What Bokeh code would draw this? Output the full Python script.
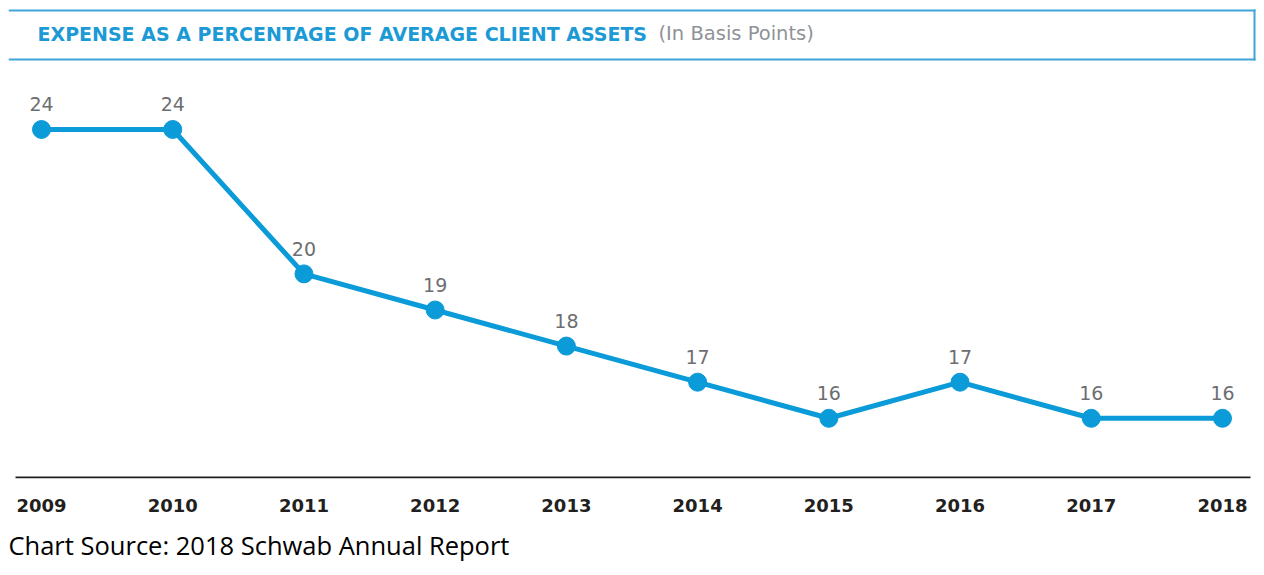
from bokeh.plotting import figure
from bokeh.models import Range1d, FixedTicker, Label, BoxAnnotation, ColumnDataSource, Title
from bokeh.embed import file_html
from bokeh.resources import INLINE
from bokeh.core.properties import value

years = [2009, 2010, 2011, 2012, 2013, 2014, 2015, 2016, 2017, 2018]
expense_bp = [24, 24, 20, 19, 18, 17, 16, 17, 16, 16]
tick_labels = [str(y) for y in years]
value_labels = [str(v) for v in expense_bp]

BLUE = "#0b9bd8"
FRAME_BLUE = "#3ea6d8"
src = ColumnDataSource(dict(x=years, y=expense_bp, lbl=value_labels))

p = figure(width=1256, height=574, output_backend="svg", toolbar_location=None,
           x_range=Range1d(2008.7485, 2018.2591), y_range=Range1d(14.332, 27.573),
           min_border_left=8, min_border_right=0, min_border_top=0, min_border_bottom=96)
p.outline_line_color = None
p.xgrid.visible = False
p.ygrid.visible = False
p.yaxis.visible = False
p.background_fill_color = "white"
p.border_fill_color = "white"

ax = p.xaxis[0]
ax.ticker = FixedTicker(ticks=years)
ax.major_label_overrides = {y: t for y, t in zip(years, tick_labels)}
ax.major_tick_line_color = None
ax.minor_tick_line_color = None
ax.axis_line_color = None
ax.major_label_text_font = "DejaVu Sans"
ax.major_label_text_font_style = "bold"
ax.major_label_text_font_size = "18px"
ax.major_label_text_color = "#231f20"
ax.major_label_standoff = 14

# baseline rule and header frame (decorations, screen units from frame bottom-left)
def bar(l, r, b, t, color):
    p.add_layout(BoxAnnotation(left=l, right=r, bottom=b, top=t,
                               left_units="screen", right_units="screen",
                               bottom_units="screen", top_units="screen",
                               fill_color=color, fill_alpha=1, line_alpha=0, level="underlay"))

bar(7, 1242, 0, 2, "#231f20")
bar(0, 1247, 467, 469, FRAME_BLUE)
bar(0, 1247, 418, 420, FRAME_BLUE)
bar(1245, 1247, 418, 469, FRAME_BLUE)

p.line("x", "y", source=src, line_color=BLUE, line_width=5)
p.scatter("x", "y", source=src, size=18, fill_color=BLUE, line_color=BLUE)
p.text("x", "y", text="lbl", source=src, y_offset=-25, text_align="center",
       text_baseline="middle", text_font=value("DejaVu Sans"), text_font_size="19px",
       text_color="#6d6e71")

p.add_layout(Label(x=29, y=445, x_units="screen", y_units="screen",
                   text="EXPENSE AS A PERCENTAGE OF AVERAGE CLIENT ASSETS",
                   text_font="DejaVu Sans", text_font_style="bold", text_font_size="19px",
                   text_color="#1b9ad6", text_baseline="middle"))
p.add_layout(Label(x=650, y=445, x_units="screen", y_units="screen",
                   text="(In Basis Points)",
                   text_font="DejaVu Sans", text_font_size="19.5px",
                   text_color="#8f9296", text_baseline="middle"))

p.add_layout(Title(text="Chart Source: 2018 Schwab Annual Report", align="left",
                   text_font="Open Sans", text_font_size="25.5px", text_font_style="normal",
                   text_color="black", standoff=22), "below")

open("out.html", "w").write(file_html(p, INLINE))
